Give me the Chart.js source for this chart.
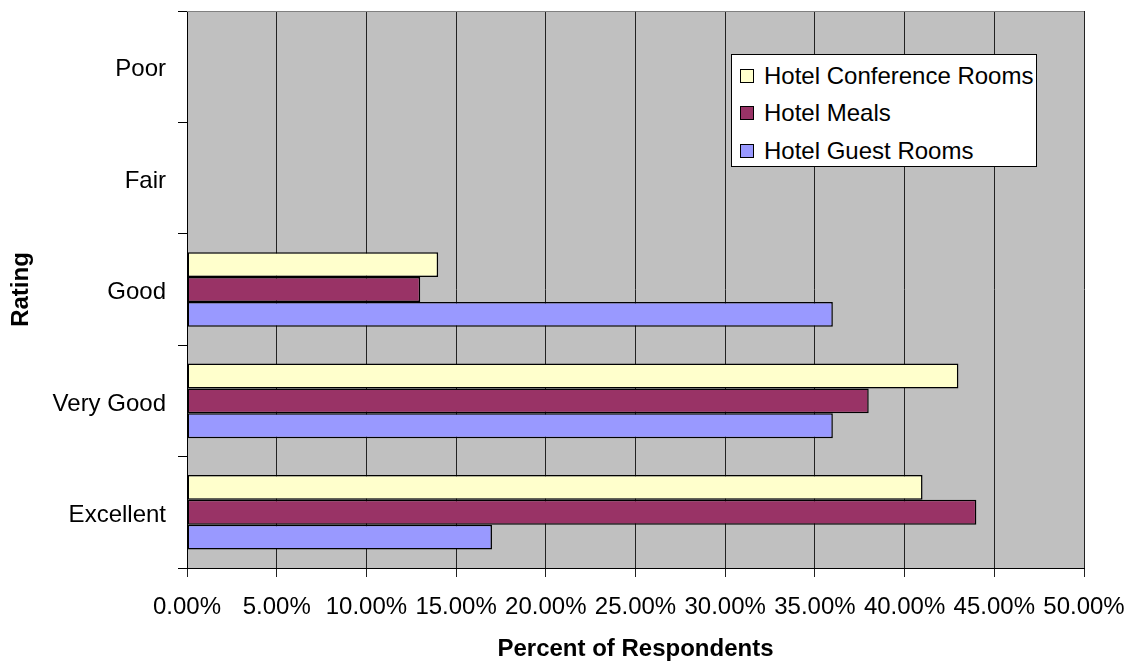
<!DOCTYPE html>
<html lang="en">
<head>
    <meta charset="UTF-8">
    <title>Hotel ratings</title>
    <style>
        body { margin: 0; background: #fff; font-family: "Liberation Sans", Arial, sans-serif; }
        #wrap { position: relative; width: 1131px; height: 662px; }
        #legend {
            position: absolute; left: 731px; top: 54px; width: 304px; height: 111px;
            background: #fff; border: 1px solid #000; font-size: 24px; color: #000;
        }
        .row { position: absolute; left: 8px; height: 28px; line-height: 28px; white-space: nowrap; }
        .sw { display: inline-block; width: 12px; height: 12px; border: 1px solid #000; margin-right: 10px; vertical-align: 1px; }
    </style>
    <script src="https://cdn.jsdelivr.net/npm/chart.js"></script>
</head>
<body>

<div id="wrap">
    <canvas id="ratingChart"></canvas>
    <div id="legend"></div>
</div>

<script>
    // ratings, top to bottom
    const ratings = ["Poor", "Fair", "Good", "Very Good", "Excellent"];

    // percent of respondents
    const conferenceRooms = [0, 0, 14, 43, 41];
    const meals = [0, 0, 13, 38, 44];
    const guestRooms = [0, 0, 36, 36, 17];

    const seriesNames = ["Hotel Conference Rooms", "Hotel Meals", "Hotel Guest Rooms"];
    const seriesColors = ["#FFFFCC", "#993366", "#9999FF"];

    const xTicks = [0, 5, 10, 15, 20, 25, 30, 35, 40, 45, 50];

    const FONT = '"Liberation Sans", Arial, sans-serif';

    // grey plot area + top border
    const plotBg = {
        id: "plotBg",
        beforeDraw(chart) {
            const a = chart.chartArea, c = chart.ctx;
            c.save();
            c.fillStyle = "#C0C0C0";
            c.fillRect(a.left, a.top, a.right - a.left, a.bottom - a.top);
            c.restore();
        },
        afterDraw(chart) {
            const a = chart.chartArea, c = chart.ctx;
            c.save();
            c.strokeStyle = "#808080";
            c.lineWidth = 1;
            c.beginPath();
            c.moveTo(a.left, a.top + 0.5);
            c.lineTo(a.right, a.top + 0.5);
            c.stroke();
            c.restore();
        }
    };

    const datasets = [conferenceRooms, meals, guestRooms].map((d, i) => ({
        label: seriesNames[i],
        data: d,
        backgroundColor: seriesColors[i],
        borderColor: "#000",
        borderWidth: 1.5,
        borderSkipped: false,
        barPercentage: 1,
        categoryPercentage: 0.67
    }));

    new Chart(document.getElementById("ratingChart"), {
        type: "bar",
        data: { labels: ratings, datasets: datasets },
        options: {
            indexAxis: "y",
            responsive: true,
            maintainAspectRatio: false,
            animation: false,
            layout: { padding: { top: 11, right: 47, left: 0, bottom: 0 } },
            plugins: {
                legend: { display: false },
                tooltip: { enabled: false }
            },
            scales: {
                x: {
                    min: 0,
                    max: 50,
                    afterBuildTicks: (s) => { s.ticks = xTicks.map(v => ({ value: v })); },
                    afterFit: (s) => {
                        s.height = 94;
                        s.paddingLeft = 0;
                        s.paddingRight = 0;
                    },
                    ticks: {
                        color: "#000",
                        font: { family: FONT, size: 24 },
                        padding: 16,
                        maxRotation: 0,
                        autoSkip: false,
                        callback: (v) => Number(v).toFixed(2) + "%"
                    },
                    grid: { color: "#222", lineWidth: 1, tickLength: 9, drawTicks: true },
                    border: { color: "#000", width: 1 },
                    title: {
                        display: true,
                        text: "Percent of Respondents",
                        color: "#000",
                        font: { family: FONT, size: 24, weight: "bold" },
                        padding: { top: 0, bottom: -2 }
                    }
                },
                y: {
                    afterFit: (s) => {
                        s.width = 187;
                        s.paddingTop = 0;
                        s.paddingBottom = 0;
                    },
                    ticks: {
                        color: "#000",
                        font: { family: FONT, size: 24 },
                        padding: 12,
                        labelOffset: 3
                    },
                    grid: { drawOnChartArea: false, color: "#000", tickLength: 9, offset: true },
                    border: { color: "#000", width: 1 },
                    title: {
                        display: true,
                        text: "Rating",
                        color: "#000",
                        font: { family: FONT, size: 24, weight: "bold" },
                        padding: { top: 7, bottom: 0 }
                    }
                }
            }
        },
        plugins: [plotBg]
    });

    // legend box inside the plot
    const legendEl = document.getElementById("legend");
    const rowTops = [7, 44, 82];
    seriesNames.forEach((name, i) => {
        const row = document.createElement("div");
        row.className = "row";
        row.style.top = rowTops[i] + "px";
        row.innerHTML = `<span class="sw" style="background:${seriesColors[i]}"></span>${name}`;
        legendEl.appendChild(row);
    });
</script>

</body>
</html>
